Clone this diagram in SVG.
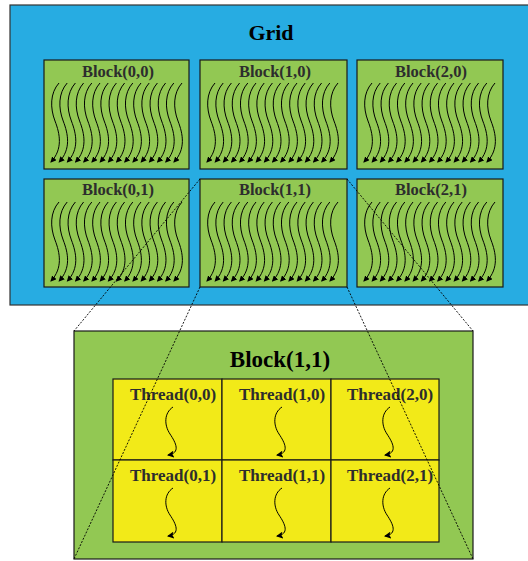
<svg xmlns="http://www.w3.org/2000/svg" width="528" height="561" viewBox="0 0 528 561">
<style>
.grid{fill:#27ace2;stroke:#333;stroke-width:1.2}
.blk{fill:#92c853;stroke:#1a1a1a;stroke-width:1.2}
.cell{fill:#f2ea18;stroke:#1a1a1a;stroke-width:1.2}
.title{font-family:"Liberation Serif",serif;font-weight:bold;fill:#000;text-anchor:middle}
.lbl{font-family:"Liberation Serif",serif;font-weight:bold;fill:#2d2d2d;text-anchor:middle}
.wave{fill:none;stroke:#000;stroke-width:1}
.dot{fill:none;stroke:#000;stroke-width:0.9;stroke-dasharray:2,1.5}
</style>
<defs>
<marker id="ah" markerWidth="6" markerHeight="6" refX="5" refY="3" orient="auto" markerUnits="userSpaceOnUse">
<path d="M0,0 L6,3 L0,6 z" fill="#000"/>
</marker>
<marker id="ah2" markerWidth="7" markerHeight="7" refX="6" refY="3.5" orient="auto" markerUnits="userSpaceOnUse">
<path d="M0,0 L7,3.5 L0,7 L1.5,3.5 z" fill="#000"/>
</marker>
<path id="bw" class="wave" d="M9,0 C0,10 0,25 5,38 S13,66 1,79" marker-end="url(#ah)"/>
<g id="bwaves">
<use href="#bw" x="0"/><use href="#bw" x="8.2"/><use href="#bw" x="16.4"/><use href="#bw" x="24.6"/>
<use href="#bw" x="32.8"/><use href="#bw" x="41"/><use href="#bw" x="49.2"/><use href="#bw" x="57.4"/>
<use href="#bw" x="65.6"/><use href="#bw" x="73.8"/><use href="#bw" x="82"/><use href="#bw" x="90.2"/>
<use href="#bw" x="98.4"/><use href="#bw" x="106.6"/><use href="#bw" x="114.8"/><use href="#bw" x="123"/>
</g>
<path id="tw" class="wave" d="M6,0 C-3,6 -3,18 3,27 C9,36 14,46 1,48" marker-end="url(#ah2)"/>
</defs>

<g id="grid">
<rect class="grid" x="10" y="5" width="530" height="300"/>
<text class="title" x="271" y="40" font-size="22">Grid</text>
</g>

<g id="block00">
<rect class="blk" x="44" y="60" width="145" height="109"/>
<text class="lbl" x="118" y="77" font-size="16.5">Block(0,0)</text>
<use href="#bwaves" x="50" y="83"/>
</g>
<g id="block10">
<rect class="blk" x="200" y="60" width="147" height="109"/>
<text class="lbl" x="275" y="77" font-size="16.5">Block(1,0)</text>
<use href="#bwaves" x="206" y="83"/>
</g>
<g id="block20">
<rect class="blk" x="357" y="60" width="146" height="109"/>
<text class="lbl" x="431" y="77" font-size="16.5">Block(2,0)</text>
<use href="#bwaves" x="363" y="83"/>
</g>
<g id="block01">
<rect class="blk" x="44" y="179" width="145" height="108"/>
<text class="lbl" x="118" y="195" font-size="16.5">Block(0,1)</text>
<use href="#bwaves" x="50" y="202"/>
</g>
<g id="block11">
<rect class="blk" x="200" y="179" width="147" height="108"/>
<text class="lbl" x="275" y="195" font-size="16.5">Block(1,1)</text>
<use href="#bwaves" x="206" y="202"/>
</g>
<g id="block21">
<rect class="blk" x="357" y="179" width="146" height="108"/>
<text class="lbl" x="431" y="195" font-size="16.5">Block(2,1)</text>
<use href="#bwaves" x="363" y="202"/>
</g>

<g id="block11-detail">
<rect class="blk" x="74" y="331" width="399" height="228"/>
<text class="title" x="280" y="367" font-size="23">Block(1,1)</text>
</g>

<g id="thread00">
<rect class="cell" x="113" y="379" width="109" height="81"/>
<text class="lbl" x="173" y="400" font-size="17">Thread(0,0)</text>
<use href="#tw" x="167" y="407"/>
</g>
<g id="thread10">
<rect class="cell" x="222" y="379" width="109" height="81"/>
<text class="lbl" x="282" y="400" font-size="17">Thread(1,0)</text>
<use href="#tw" x="276" y="407"/>
</g>
<g id="thread20">
<rect class="cell" x="331" y="379" width="108" height="81"/>
<text class="lbl" x="390" y="400" font-size="17">Thread(2,0)</text>
<use href="#tw" x="384" y="407"/>
</g>
<g id="thread01">
<rect class="cell" x="113" y="460" width="109" height="82"/>
<text class="lbl" x="173" y="481" font-size="17">Thread(0,1)</text>
<use href="#tw" x="167" y="488"/>
</g>
<g id="thread11">
<rect class="cell" x="222" y="460" width="109" height="82"/>
<text class="lbl" x="282" y="481" font-size="17">Thread(1,1)</text>
<use href="#tw" x="276" y="488"/>
</g>
<g id="thread21">
<rect class="cell" x="331" y="460" width="108" height="82"/>
<text class="lbl" x="390" y="481" font-size="17">Thread(2,1)</text>
<use href="#tw" x="384" y="488"/>
</g>

<g id="connectors">
<line class="dot" x1="200" y1="179" x2="74" y2="331"/>
<line class="dot" x1="200" y1="287" x2="74" y2="559"/>
<line class="dot" x1="347" y1="179" x2="473" y2="331"/>
<line class="dot" x1="347" y1="287" x2="473" y2="559"/>
</g>
</svg>
